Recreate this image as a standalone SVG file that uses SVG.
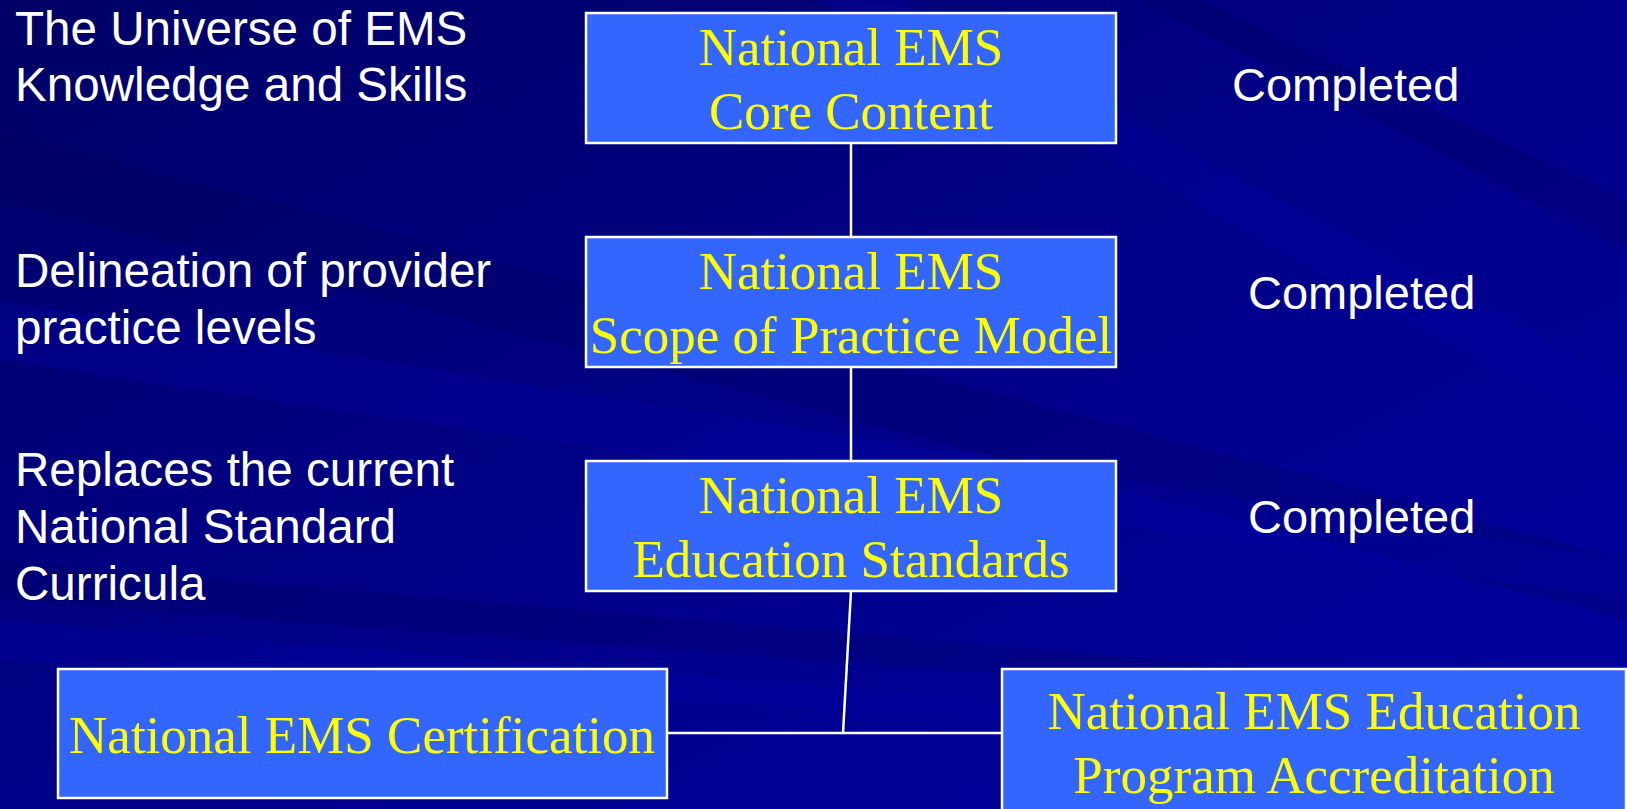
<svg xmlns="http://www.w3.org/2000/svg" width="1627" height="809" viewBox="0 0 1627 809">
<defs>
<linearGradient id="bg" x1="0" y1="0" x2="1" y2="1">
<stop offset="0" stop-color="#000066"/>
<stop offset="0.5" stop-color="#000088"/>
<stop offset="1" stop-color="#0000a0"/>
</linearGradient>
<style>
.box{fill:#3366ff;stroke:#ffffff;stroke-width:2.5}
.bt{font-family:"Liberation Serif","Times New Roman",serif;font-size:53px;fill:#ffff00;text-anchor:middle}
.lt{font-family:"Liberation Sans",Arial,sans-serif;font-size:47.6px;fill:#ffffff}
.rt{font-family:"Liberation Sans",Arial,sans-serif;font-size:47px;fill:#ffffff}
.conn{stroke:#ffffff;stroke-width:2.5;fill:none}
.streak{fill:#0000a8;opacity:0.3}
.dark{fill:#000050;opacity:0.22}
</style>
</defs>
<g id="background">
<rect x="0" y="0" width="1627" height="809" fill="url(#bg)"/>
<polygon class="dark" points="0,130 1627,560 1627,620 0,200"/>
<polygon class="streak" points="0,300 1627,560 1627,600 0,360"/>
<polygon class="dark" points="0,560 1627,700 1627,720 0,600"/>
<polygon class="streak" points="900,0 1627,380 1627,440 820,0"/>
<polygon class="dark" points="1200,0 1627,200 1627,250 1140,0"/>
<polygon class="streak" points="0,620 1000,700 1000,720 0,660"/>
</g>
<g id="connectors">
<line class="conn" x1="851" y1="143" x2="851" y2="237"/>
<line class="conn" x1="851" y1="367" x2="851" y2="461"/>
<line class="conn" x1="851" y1="591" x2="843" y2="733"/>
<line class="conn" x1="667" y1="733" x2="1002" y2="733"/>
</g>
<g id="labels-left">
<text class="lt" x="15" y="45">The Universe of EMS</text>
<text class="lt" x="15" y="101">Knowledge and Skills</text>
<text class="lt" x="15" y="287">Delineation of provider</text>
<text class="lt" x="15" y="344">practice levels</text>
<text class="lt" x="15" y="486">Replaces the current</text>
<text class="lt" x="15" y="543">National Standard</text>
<text class="lt" x="15" y="600">Curricula</text>
</g>
<g id="labels-right">
<text class="rt" x="1232" y="101">Completed</text>
<text class="rt" x="1248" y="309">Completed</text>
<text class="rt" x="1248" y="533">Completed</text>
</g>
<g id="node-core">
<rect class="box" x="586" y="13" width="530" height="130"/>
<text class="bt" x="851" y="65">National EMS</text>
<text class="bt" x="851" y="129">Core Content</text>
</g>
<g id="node-scope">
<rect class="box" x="586" y="237" width="530" height="130"/>
<text class="bt" x="851" y="289">National EMS</text>
<text class="bt" x="851" y="353">Scope of Practice Model</text>
</g>
<g id="node-standards">
<rect class="box" x="586" y="461" width="530" height="130"/>
<text class="bt" x="851" y="513">National EMS</text>
<text class="bt" x="851" y="577">Education Standards</text>
</g>
<g id="node-certification">
<rect class="box" x="58" y="669" width="609" height="129"/>
<text class="bt" x="362" y="753">National EMS Certification</text>
</g>
<g id="node-accreditation">
<rect class="box" x="1002" y="669" width="624" height="150"/>
<text class="bt" x="1314" y="729">National EMS Education</text>
<text class="bt" x="1314" y="793">Program Accreditation</text>
</g>
</svg>
